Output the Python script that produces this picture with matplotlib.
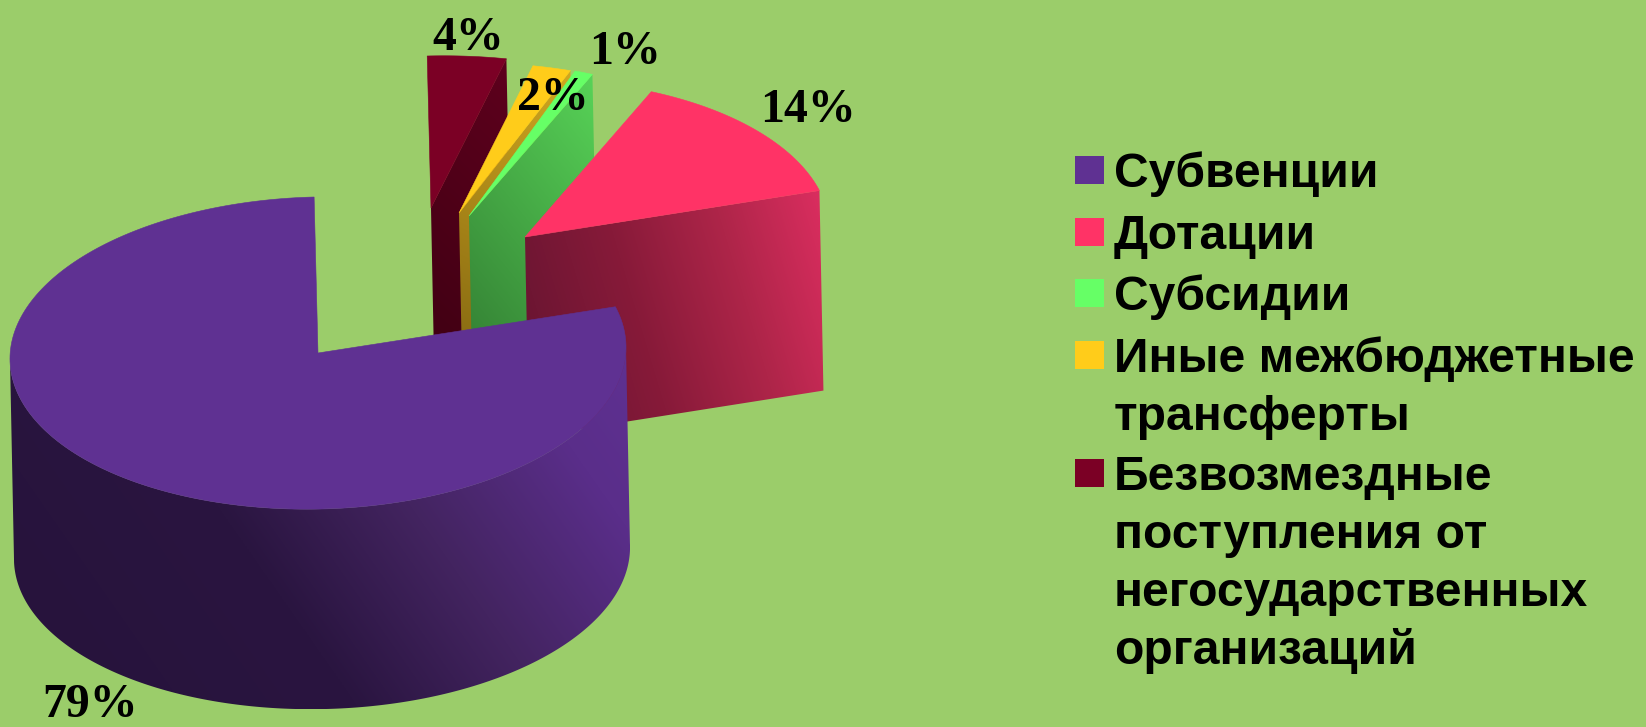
import numpy as np
import matplotlib
matplotlib.use("Agg")
import matplotlib.pyplot as plt
from matplotlib.colors import to_rgb
from matplotlib.patches import Polygon, Rectangle

# ---- data ----
categories = ["Субвенции", "Дотации", "Субсидии",
              "Иные межбюджетные\nтрансферты",
              "Безвозмездные\nпоступления от\nнегосударственных\nорганизаций"]
values = [79, 14, 1, 2, 4]
value_labels = ["79%", "14%", "1%", "2%", "4%"]

# ---- style / layout (pixels of the 1646x727 canvas) ----
BG = "#9BCD6A"
top_colors = ["#5F3192", "#FF3366", "#66FF66", "#FFCC1A", "#7B0025"]
centers = [(318, 353), (525, 237), (469, 216), (459, 213), (431, 208)]
radii_x = [308, 305, 298, 312, 318]
radii_y = [156, 157, 153, 150, 152]
wall_dir = [(1, -0.7), (1, -0.3), (1, -0.8), (0.5, -1), (1, -1)]
wall_stops = [
    [(0, "#26133B"), (0.40, "#2A1540"), (0.62, "#432460"), (0.85, "#5A2E8A"), (1, "#5F3192")],
    [(0, "#631430"), (0.4, "#871A39"), (0.7, "#AE2549"), (1, "#DC2E60")],
    [(0, "#2F752F"), (1, "#58D458")],
    [(0, "#7A5F10"), (1, "#D2A81F")],
    [(0, "#3C0012"), (1, "#5E001D")],
]
label_pos = [(42, 717), (760, 122), (589, 64), (517, 110), (432, 50)]
DEPTH = 200
BOTTOM_DX = 4
SHEAR_X, SHEAR_Y = 0.025, 0.025

plt.rcParams["font.family"] = ["Liberation Sans", "DejaVu Sans"]
fig = plt.figure(figsize=(16.46, 7.27), dpi=100, facecolor=BG)
ax = fig.add_axes([0, 0, 1, 1])
ax.set_facecolor(BG)
ax.axis("off")


def rim(i, deg):
    t = np.radians(deg)
    cx, cy = centers[i]
    dx = radii_x[i] * np.cos(t)
    dy = radii_y[i] * np.sin(t)
    return np.column_stack([cx + dx - SHEAR_X * dy, cy - dy - SHEAR_Y * dx])


def drop(pts):
    return pts + np.array([BOTTOM_DX, DEPTH])


def gradient(poly, direction, stops, z):
    x0, y0 = poly.min(axis=0)
    x1, y1 = poly.max(axis=0)
    xx, yy = np.meshgrid(np.linspace(x0, x1, 300), np.linspace(y0, y1, 300))
    p = xx * direction[0] + yy * direction[1]
    p = (p - p.min()) / (p.max() - p.min())
    pos = [s[0] for s in stops]
    cols = np.array([to_rgb(s[1]) for s in stops])
    img = np.dstack([np.interp(p, pos, cols[:, k]) for k in range(3)])
    im = ax.imshow(img, extent=(x0, x1, y1, y0), aspect="auto", zorder=z, interpolation="bilinear")
    clip = Polygon(poly, closed=True, transform=ax.transData, facecolor="none", edgecolor="none")
    ax.add_patch(clip)
    im.set_clip_path(clip)


# angles from the values: counter-clockwise from 12 o'clock
fractions = np.array(values) / np.sum(values)
edges = 90 + 360 * np.concatenate([[0], np.cumsum(fractions)])

z = 2
for i in [4, 3, 2, 1, 0]:
    a0, a1 = edges[i], edges[i + 1]
    if a0 >= 360:
        a0, a1 = a0 - 360, a1 - 360
    arc = rim(i, np.linspace(a0, a1, 240))
    c = np.array(centers[i], dtype=float)
    # radial wall at the start angle, facing the viewer
    if 0 < a0 < 90:
        tip = rim(i, np.array([a0]))[0]
        wall = np.array([c, tip, drop(tip[None])[0], drop(c[None])[0]])
        gradient(wall, wall_dir[i], wall_stops[i], z)
        z += 1
    # outer wall on the front half, between the silhouette points of the rim
    lo, hi = max(a0, 180.7), min(a1, 360.7)
    if hi > lo:
        front = rim(i, np.linspace(lo, hi, 400))
        wall = np.vstack([front, drop(front)[::-1]])
        gradient(wall, wall_dir[i], wall_stops[i], z)
        z += 1
    top = np.vstack([c, arc])
    ax.add_patch(Polygon(top, closed=True, facecolor=top_colors[i], edgecolor=top_colors[i], lw=0.4, zorder=z))
    z += 1

ax.set_xlim(0, 1646)
ax.set_ylim(727, 0)

for lab, (x, y) in zip(value_labels, label_pos):
    ax.text(x, y, lab, family="Liberation Serif", weight="bold", fontsize=34.5,
            color="black", ha="left", va="baseline", zorder=50)

# legend
row_y = [187, 249, 310, 372, 490]
for name, color, y in zip(categories, top_colors, row_y):
    ax.add_patch(Rectangle((1075, y - 31), 29, 28, facecolor=color, edgecolor="none", zorder=50))
    for k, line in enumerate(name.split("\n")):
        ax.text(1114, y + k * 58, line, weight="bold", fontsize=34.6, color="black",
                ha="left", va="baseline", zorder=50)

fig.savefig("out.png", dpi=100, facecolor=BG)
